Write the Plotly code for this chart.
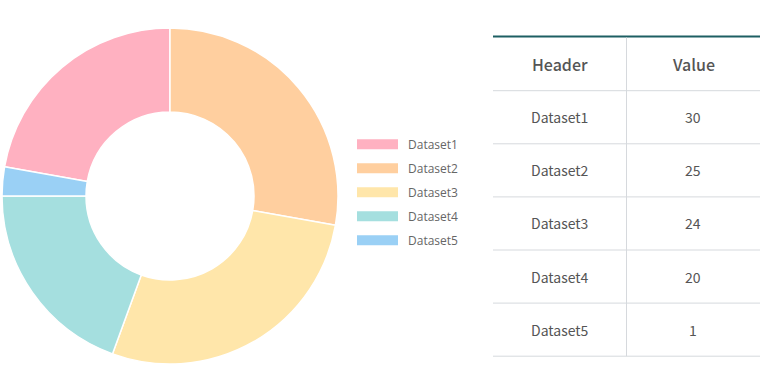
import plotly.graph_objects as go

W, H = 767, 370

# Data
labels = ["Dataset1", "Dataset2", "Dataset3", "Dataset4", "Dataset5"]
chart_values = [8, 10, 10, 7, 1]
colors = ["#FFB1C1", "#FFCF9F", "#FFE6AA", "#A5DFDF", "#9AD0F5"]
table_headers = ["Header", "Value"]
table_values = [30, 25, 24, 20, 1]


def px(x):
    return x / W


def py(y):
    return 1 - y / H


fig = go.Figure()
fig.add_trace(go.Pie(
    labels=labels,
    values=chart_values,
    hole=0.5,
    sort=False,
    direction="clockwise",
    rotation=280,
    marker=dict(colors=colors, line=dict(color="#ffffff", width=1.5)),
    textinfo="none",
    hoverinfo="label+value",
    showlegend=False,
    domain=dict(x=[px(2), px(338)], y=[py(364), py(28)]),
))

shapes = []
annotations = []

# Custom legend
for i, (lab, col) in enumerate(zip(labels, colors)):
    cy = 144.3 + 24 * i
    shapes.append(dict(type="rect", xref="paper", yref="paper",
                       x0=px(357), x1=px(398), y0=py(cy + 5), y1=py(cy - 5),
                       fillcolor=col, line=dict(width=0)))
    annotations.append(dict(xref="paper", yref="paper", x=px(406), y=py(cy),
                            text=lab, showarrow=False, xanchor="left", yanchor="middle",
                            font=dict(family="Open Sans", size=12, color="#666666")))

# Table
tx0, tx1, tdiv = 493, 760, 626.5
top = 36.5
row_h = 53.1
header_bottom = 90.7
n = len(labels)
bottom = header_bottom + row_h * n

shapes.append(dict(type="line", xref="paper", yref="paper",
                   x0=px(tx0), x1=px(tx1), y0=py(top), y1=py(top),
                   line=dict(color="#1d5f63", width=2)))
shapes.append(dict(type="line", xref="paper", yref="paper",
                   x0=px(tdiv), x1=px(tdiv), y0=py(top + 1), y1=py(bottom),
                   line=dict(color="#d6d9dd", width=1)))
for k in range(n + 1):
    yy = header_bottom + row_h * k
    shapes.append(dict(type="line", xref="paper", yref="paper",
                       x0=px(tx0), x1=px(tx1), y0=py(yy), y1=py(yy),
                       line=dict(color="#d6d9dd", width=1)))

c1 = (tx0 + tdiv) / 2
c2 = (tdiv + tx1) / 2
hy = (top + header_bottom) / 2
for cx, htxt in zip([c1, c2], table_headers):
    annotations.append(dict(xref="paper", yref="paper", x=px(cx), y=py(hy),
                            text=htxt, showarrow=False,
                            xanchor="center", yanchor="middle",
                            font=dict(family="Noto Sans CJK KR", size=16, color="#555555",
                                      weight=500)))
for i, (lab, val) in enumerate(zip(labels, table_values)):
    cy = header_bottom + row_h * (i + 0.5)
    annotations.append(dict(xref="paper", yref="paper", x=px(c1), y=py(cy),
                            text=lab, showarrow=False, xanchor="center", yanchor="middle",
                            font=dict(family="Noto Sans CJK KR", size=14, color="#555555")))
    annotations.append(dict(xref="paper", yref="paper", x=px(c2), y=py(cy),
                            text=str(val), showarrow=False, xanchor="center", yanchor="middle",
                            font=dict(family="Noto Sans CJK KR", size=14, color="#555555")))

fig.update_layout(
    width=W, height=H,
    margin=dict(l=0, r=0, t=0, b=0),
    paper_bgcolor="#ffffff",
    plot_bgcolor="#ffffff",
    shapes=shapes,
    annotations=annotations,
    showlegend=False,
)

fig.write_html("out.html", config={"displayModeBar": False},
               post_script="document.body.style.margin='0';")
